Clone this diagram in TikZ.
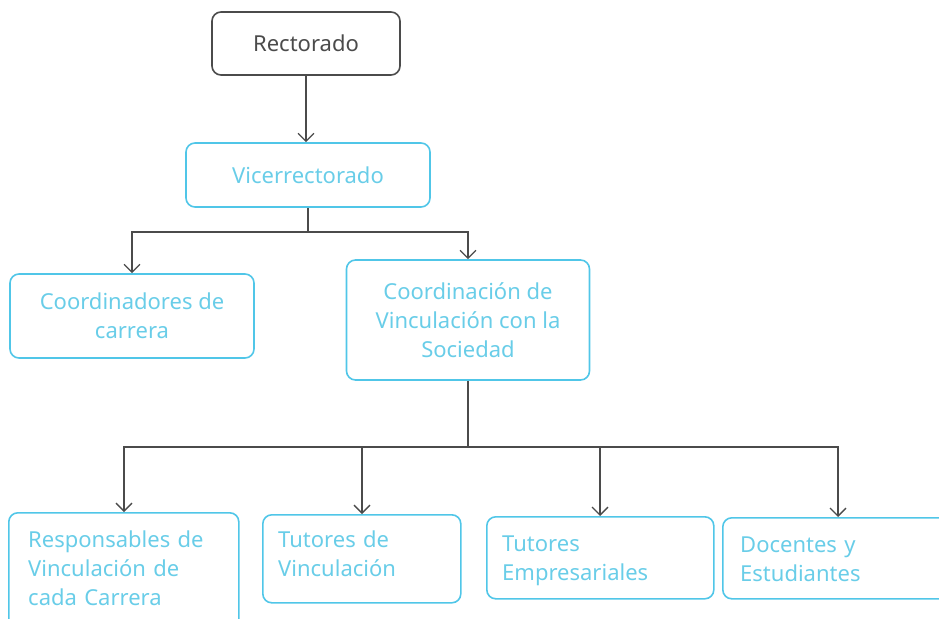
\documentclass[tikz,border=0pt]{standalone}
\usepackage{fontspec}
\setmainfont{Noto Sans}
\usepackage{tikz}
\usetikzlibrary{arrows.meta}
\definecolor{cyanline}{RGB}{80,198,232}
\definecolor{cyantext}{RGB}{105,205,232}
\definecolor{darkline}{RGB}{75,75,75}
\tikzstyle{unit}=[draw=cyanline, line width=1.6pt, rounded corners=9pt, text=cyantext, font=\fontsize{22}{29}\selectfont, inner sep=0pt]
\tikzstyle{head}=[unit, draw=darkline, text=darkline]
\tikzstyle{lowunit}=[unit, anchor=north west]
\tikzstyle{lowtext}=[text=cyantext, font=\fontsize{22}{29}\selectfont, inner sep=0pt, anchor=base west, align=left, text width=220pt]
\tikzstyle{link}=[darkline, line width=1.3pt, -{Straight Barb[length=8pt,width=16pt,line width=1.3pt]}]
\begin{document}
\begin{tikzpicture}[x=1pt, y=-1pt]
	\useasboundingbox (0,0) rectangle (939,618);
	\clip (0,0) rectangle (939,618);
	\node[head, minimum width=188pt, minimum height=63pt] (rect) at (306,43.5) {Rectorado};
	\node[unit, minimum width=244pt, minimum height=64pt] (vice) at (308,175) {Vicerrectorado};
	\node[unit, minimum width=244pt, minimum height=84pt, align=center] (coord) at (132,316) {Coordinadores de\\carrera};
	\node[unit, minimum width=243pt, minimum height=120pt, align=center] (vinc) at (468,320) {Coordinación de\\Vinculación con la\\Sociedad};
	% lower row, text set from the left
	\node[lowunit, minimum width=230pt, minimum height=120pt] (resp) at (8,512) {};
	\node[lowunit, minimum width=198pt, minimum height=88pt] (tutv) at (262,514) {};
	\node[lowunit, minimum width=227pt, minimum height=82pt] (tute) at (486,516) {};
	\node[lowunit, minimum width=240pt, minimum height=81pt] (doce) at (722,517) {};
	\node[lowtext] (respText) at (28,547) {Responsables de\\Vinculación de\\cada Carrera};
	\node[lowtext] (tutvText) at (278,547) {Tutores de\\Vinculación};
	\node[lowtext] (tuteText) at (502,551) {Tutores\\Empresariales};
	\node[lowtext] (doceText) at (740,552) {Docentes y\\Estudiantes};
	% connectors
	\draw[link] (rect.south) -- (rect.south |- vice.north);
	\coordinate (splitA) at (308,232);
	\coordinate (splitB) at (468,447);
	\draw[darkline, line width=1.3pt] (vice) -- (splitA);
	\draw[link] (splitA) -| (coord.north);
	\draw[link] (splitA) -| (vinc.north);
	\draw[darkline, line width=1.3pt] (vinc) -- (splitB);
	\foreach \n/\x in {resp/124, tutv/362, tute/600, doce/838}{
		\draw[link] (splitB) -| (\x,0 |- \n.north);
	}
\end{tikzpicture}
\end{document}
